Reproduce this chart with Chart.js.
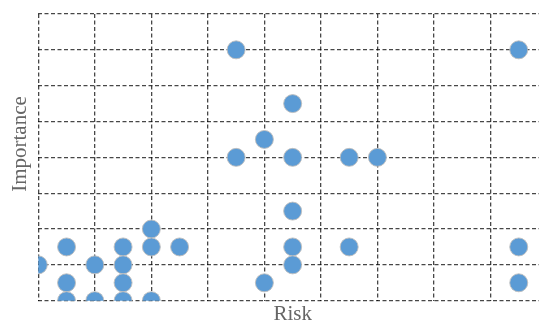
<!DOCTYPE html>
<html>
<head>
<meta charset="utf-8">
<script src="https://cdn.jsdelivr.net/npm/chart.js@4"></script>
<style>
  html, body { margin: 0; padding: 0; background: #fff; overflow: hidden; }
  #wrap { width: 547px; height: 323px; position: relative; }
</style>
</head>
<body>
<div id="wrap"><canvas id="riskChart"></canvas></div>
<script>
// punti: rischio (x) e importanza (y)
var riskValues = [3.5, 8.5, 4.5, 4, 3.5, 4.5, 5.5, 6, 4.5, 2,
                  0.5, 1.5, 2, 2.5, 4.5, 5.5, 8.5,
                  0, 1, 1.5, 4.5,
                  0.5, 1.5, 4, 8.5,
                  0.5, 1, 1.5, 2];
var importanceValues = [7, 7, 5.5, 4.5, 4, 4, 4, 4, 2.5, 2,
                        1.5, 1.5, 1.5, 1.5, 1.5, 1.5, 1.5,
                        1, 1, 1, 1,
                        0.5, 0.5, 0.5, 0.5,
                        0, 0, 0, 0];
var xRange = [0, 9];
var yRange = [0, 8];
var xTitle = "Risk";
var yTitle = "Importance";

var serif = "'Liberation Serif', 'DejaVu Serif', serif";

// titolo asse Y disegnato a mano (non centrato sull'area del grafico)
var yTitlePlugin = {
    id: "yTitle",
    afterDraw: function (chart) {
        var c = chart.ctx;
        c.save();
        c.translate(25.6, 144);
        c.rotate(-Math.PI / 2);
        c.font = "21px " + serif;
        c.fillStyle = "#666";
        c.textAlign = "center";
        c.textBaseline = "alphabetic";
        c.fillText(yTitle, 0, 0);
        c.restore();
    }
};

document.addEventListener("DOMContentLoaded", function () {
    var ctx = document.getElementById("riskChart").getContext("2d");

    var punti = riskValues.map(function (r, i) {
        return { x: r, y: importanceValues[i] };
    });

    var gridOpts = {
        color: "rgba(0,0,0,0.72)",
        lineWidth: 1.3,
        drawTicks: false
    };

    new Chart(ctx, {
        type: "scatter",
        data: {
            datasets: [{
                data: punti,
                backgroundColor: "#5b9bd5",
                borderColor: "rgba(190,190,190,0.9)",
                borderWidth: 1,
                pointRadius: 9,
                pointHoverRadius: 9,
                clip: 0
            }]
        },
        options: {
            responsive: true,
            maintainAspectRatio: false,
            animation: false,
            layout: {
                autoPadding: false,
                padding: { top: 14, right: 0, bottom: 0, left: 38.3 }
            },
            plugins: {
                legend: { display: false },
                tooltip: { enabled: false }
            },
            scales: {
                x: {
                    type: "linear",
                    min: xRange[0],
                    max: xRange[1],
                    z: 1,
                    ticks: { display: false, stepSize: 1 },
                    grid: gridOpts,
                    border: { display: false, dash: [4, 2.5] },
                    title: {
                        display: true,
                        text: xTitle,
                        color: "#666",
                        font: { family: serif, size: 21, lineHeight: 0.8 },
                        padding: { top: 5.5, bottom: 0 }
                    }
                },
                y: {
                    type: "linear",
                    min: yRange[0],
                    max: yRange[1],
                    z: 1,
                    ticks: { display: false, stepSize: 1 },
                    grid: gridOpts,
                    border: { display: false, dash: [4, 2.5] },
                    title: { display: false }
                }
            }
        },
        plugins: [yTitlePlugin]
    });
});
</script>
</body>
</html>
